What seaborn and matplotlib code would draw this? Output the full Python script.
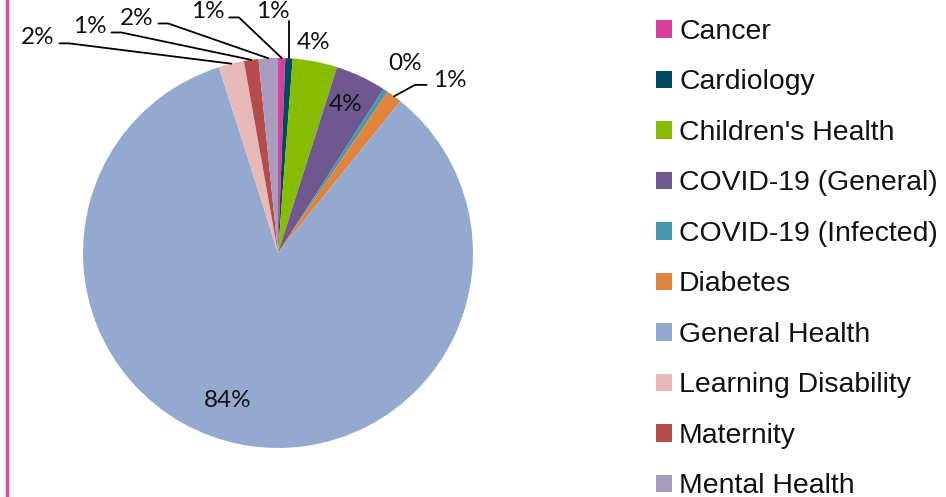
"""Pie chart of enquiries by topic."""
import matplotlib
matplotlib.use("Agg")
import matplotlib.pyplot as plt
import numpy as np
import seaborn as sns

categories = ["Cancer", "Cardiology", "Children's Health", "COVID-19 (General)",
              "COVID-19 (Infected)", "Diabetes", "General Health",
              "Learning Disability", "Maternity", "Mental Health"]
shares = [0.6, 0.6, 3.7, 4.2, 0.4, 1.3, 84.3, 2.1, 1.2, 1.6]
colors = ["#D6409B", "#004B63", "#88BC00", "#6F5790", "#4499AE",
          "#DE843D", "#94A9D0", "#E6B9B8", "#B64B4B", "#A99BBD"]

# label text position (pie data units) and whether a leader line is drawn
label_pos = {
    "Cancer": (-0.36, 1.236, True),
    "Cardiology": (-0.026, 1.236, True),
    "Children's Health": (0.18, 1.082, False),
    "COVID-19 (General)": (0.344, 0.759, False),
    "COVID-19 (Infected)": (0.651, 0.974, False),
    "Diabetes": (0.882, 0.887, True),
    "General Health": (-0.256, -0.754, False),
    "Learning Disability": (-1.231, 1.103, True),
    "Maternity": (-0.964, 1.159, True),
    "Mental Health": (-0.723, 1.205, True),
}

sns.set_theme(style="white")
plt.rcParams["font.family"] = ["Liberation Sans", "DejaVu Sans"]

W, H = 946, 497
fig = plt.figure(figsize=(W / 100, H / 100), dpi=100)
cx, cy, r = 278, 253, 195
ax = fig.add_axes([(cx - r) / W, (H - cy - r) / H, 2 * r / W, 2 * r / H])
palette = sns.color_palette(colors)
wedges, _ = ax.pie(shares, colors=palette, startangle=90, counterclock=False,
                   radius=1, wedgeprops=dict(linewidth=0))
ax.set_xlim(-1, 1)
ax.set_ylim(-1, 1)
ax.set_aspect("equal")
ax.axis("off")

total = sum(shares)
for w, cat, val in zip(wedges, categories, shares):
    tx, ty, leader = label_pos[cat]
    txt = f"{val / total * 100:.0f}%"
    ax.text(tx, ty, txt, ha="center", va="center", fontsize=17.5,
            family="Lato", color="#111111", clip_on=False)
    if not leader:
        continue
    mid = np.deg2rad((w.theta1 + w.theta2) / 2)
    ex, ey = np.cos(mid), np.sin(mid)
    if cat == "Cardiology":
        ax.plot([ex, ex], [ty - 0.045, ey], color="black", lw=1.3, clip_on=False)
        continue
    if cat == "Diabetes":
        sx = tx - 0.12
        pts = [(sx, ty - 0.025), (sx - 0.06, ty - 0.025), (ex, ey)]
    else:
        sx = tx + 0.11
        pts = [(sx, ty - 0.028), (sx + 0.05, ty - 0.028), (ex, ey)]
    xs, ys = zip(*pts)
    ax.plot(xs, ys, color="black", lw=1.3, clip_on=False)

leg = fig.legend(wedges, categories, loc="upper left", bbox_to_anchor=(0.6934, 0.962),
                 frameon=False, fontsize=20.4, handlelength=0.565, handleheight=0.565,
                 handletextpad=0.25, labelspacing=0.865, borderaxespad=0, borderpad=0)
for t in leg.get_texts():
    t.set_color("#111111")

# pink rule down the left edge
fig.add_artist(plt.Line2D([7 / W, 7 / W], [0, 1], color="#DD4BA1", lw=2.5))

fig.savefig("out.png", dpi=100)
